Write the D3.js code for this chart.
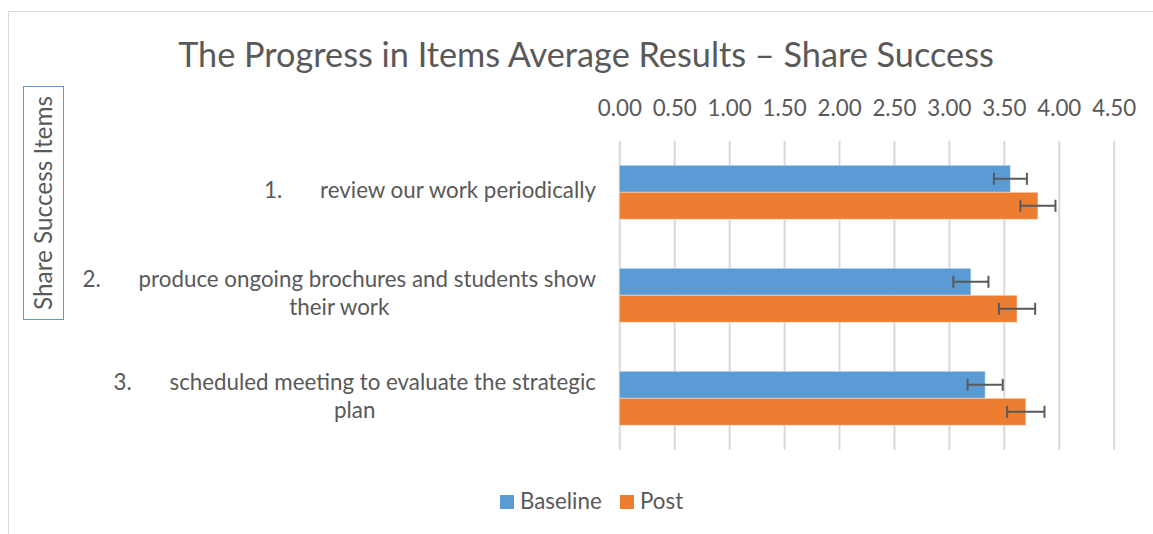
<!DOCTYPE html>
<html>
<head>
<meta charset="utf-8">
<script src="https://cdn.jsdelivr.net/npm/d3@7"></script>
<style>
  body { margin: 0; background: #fff; }
  svg { display: block; }
</style>
</head>
<body>
<div id="chart"></div>
<script>
var itemNumbers = ["1.", "2.", "3."];
var itemLines = [
    ["review our work periodically"],
    ["produce ongoing brochures and students show", "their work"],
    ["scheduled meeting to evaluate the strategic", "plan"]
];
var seriesNames = ["Baseline", "Post"];
var baseline = [3.56, 3.20, 3.33];
var post = [3.81, 3.62, 3.70];
var baselineErr = [0.15, 0.16, 0.16];
var postErr = [0.16, 0.165, 0.17];
var tickValues = [0, 0.5, 1, 1.5, 2, 2.5, 3, 3.5, 4, 4.5];

var width = 1153,
    height = 534;
var fontFam = "Lato, 'Open Sans', sans-serif";
var textCol = "#595959";
var colors = ["#5b9bd5", "#ed7d31"];

var svg = d3.select("#chart").append("svg")
    .attr("width", width)
    .attr("height", height);

// size a font so a string fills a given width
function fitSize(str, target) {
  var t = svg.append("text")
      .style("font-family", fontFam)
      .style("font-size", "100px")
      .text(str);
  var w = t.node().getComputedTextLength();
  t.remove();
  return 100 * target / w;
}

var titleSize = fitSize("The Progress in Items Average Results \u2013 Share Success", 816);
var labSize = fitSize("review our work periodically", 276);
var yTitleSize = fitSize("Share Success Items", 214);

// chart frame
svg.append("rect")
    .attr("x", 8.5).attr("y", 11.5)
    .attr("width", 1200).attr("height", 600)
    .attr("fill", "none")
    .attr("stroke", "#d9d9d9");

var x = d3.scaleLinear()
    .domain([0, 4.5])
    .range([619.3, 1113.7]);

var y = d3.scaleBand()
    .domain(d3.range(itemNumbers.length))
    .range([140.8, 449.8])
    .paddingInner(0.476)
    .paddingOuter(0.238);

var ySub = d3.scaleBand()
    .domain(seriesNames)
    .range([0, y.bandwidth()]);

// gridlines + top tick labels
var xAxis = d3.axisTop(x)
    .tickValues(tickValues)
    .tickSize(-(449.8 - 140.8))
    .tickPadding(25)
    .tickFormat(d3.format(".2f"));

var gx = svg.append("g")
    .attr("transform", "translate(0,140.8)")
    .call(xAxis);
gx.select(".domain").remove();
gx.selectAll(".tick line").attr("stroke", "#d9d9d9").attr("stroke-width", 2);
gx.selectAll(".tick text")
    .attr("fill", textCol)
    .style("font-family", fontFam)
    .style("font-size", labSize + "px");

// bars
var series = [
  { name: "Baseline", vals: baseline, errs: baselineErr },
  { name: "Post", vals: post, errs: postErr }
];

series.forEach(function(s, si) {
  var g = svg.append("g");
  g.selectAll("rect")
    .data(s.vals)
    .enter().append("rect")
      .attr("x", x(0))
      .attr("y", function(d, i) { return y(i) + ySub(s.name); })
      .attr("width", function(d) { return x(d) - x(0); })
      .attr("height", ySub.bandwidth())
      .attr("fill", colors[si])
      .attr("stroke", "#fff")
      .attr("stroke-opacity", 0.4)
      .attr("stroke-width", 1);

  var eb = svg.append("g")
      .attr("stroke", "#595959")
      .attr("stroke-width", 2);
  s.vals.forEach(function(v, i) {
    var cy = y(i) + ySub(s.name) + ySub.bandwidth() / 2;
    var e = s.errs[i];
    eb.append("line")
      .attr("x1", x(v - e)).attr("x2", x(v + e))
      .attr("y1", cy).attr("y2", cy);
    eb.append("line")
      .attr("x1", x(v - e)).attr("x2", x(v - e))
      .attr("y1", cy - 6).attr("y2", cy + 6);
    eb.append("line")
      .attr("x1", x(v + e)).attr("x2", x(v + e))
      .attr("y1", cy - 6).attr("y2", cy + 6);
  });
});

// category labels
var labRight = 596;
var lineH = 28;
itemLines.forEach(function(lines, i) {
  var cy = y(i) + y.bandwidth() / 2;
  var firstBase = cy - (lines.length - 1) * lineH / 2 + 5.5;
  var t1 = svg.append("text")
      .attr("x", labRight)
      .attr("y", firstBase)
      .attr("text-anchor", "end")
      .attr("fill", textCol)
      .style("font-family", fontFam)
      .style("font-size", labSize + "px")
      .text(lines[0]);
  var start = labRight - t1.node().getComputedTextLength();
  var numX = start - 56;
  svg.append("text")
      .attr("x", numX)
      .attr("y", firstBase)
      .attr("fill", textCol)
      .style("font-family", fontFam)
      .style("font-size", labSize + "px")
      .text(itemNumbers[i]);
  for (var k = 1; k < lines.length; k++) {
    svg.append("text")
      .attr("x", (numX + labRight) / 2)
      .attr("y", firstBase + k * lineH)
      .attr("text-anchor", "middle")
      .attr("fill", textCol)
      .style("font-family", fontFam)
      .style("font-size", labSize + "px")
      .text(lines[k]);
  }
});

// title
svg.append("text")
    .attr("x", 586)
    .attr("y", 67)
    .attr("text-anchor", "middle")
    .attr("fill", textCol)
    .style("font-family", fontFam)
    .style("font-size", titleSize + "px")
    .text("The Progress in Items Average Results \u2013 Share Success");

// axis title in a box
svg.append("rect")
    .attr("x", 23.5).attr("y", 86.5)
    .attr("width", 40).attr("height", 233)
    .attr("fill", "none")
    .attr("stroke", "#5b9bd5");
svg.append("text")
    .attr("transform", "translate(52,203) rotate(-90)")
    .attr("text-anchor", "middle")
    .attr("fill", textCol)
    .style("font-family", fontFam)
    .style("font-size", yTitleSize + "px")
    .text("Share Success Items");

// legend
var legX = [500, 620];
seriesNames.forEach(function(n, i) {
  svg.append("rect")
      .attr("x", legX[i]).attr("y", 495)
      .attr("width", 14).attr("height", 14)
      .attr("fill", colors[i]);
  svg.append("text")
      .attr("x", legX[i] + 20)
      .attr("y", 509)
      .attr("fill", textCol)
      .style("font-family", fontFam)
      .style("font-size", labSize + "px")
      .text(n);
});
</script>
</body>
</html>
